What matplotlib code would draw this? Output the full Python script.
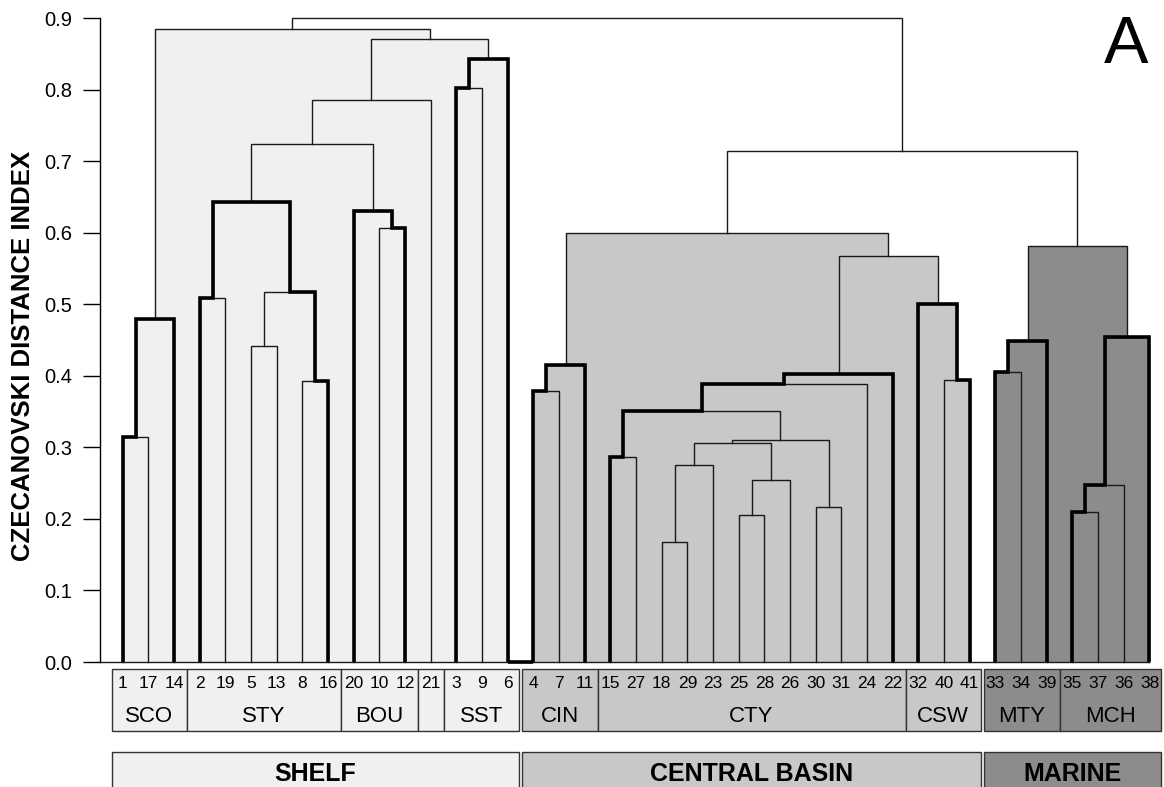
import numpy as np
import matplotlib
matplotlib.use('Agg')
import matplotlib.pyplot as plt
from matplotlib.patches import Rectangle, Polygon

plt.rcParams['font.family'] = ['Liberation Sans', 'DejaVu Sans']

# leaf order along the x axis
leaves = ['1', '17', '14', '2', '19', '5', '13', '8', '16', '20', '10', '12', '21',
          '3', '9', '6', '4', '7', '11', '15', '27', '18', '29', '23', '25', '28',
          '26', '30', '31', '24', '22', '32', '40', '41', '33', '34', '39', '35',
          '37', '36', '38']

# merges: (node name, left child, right child, distance)
merges = [
    ('a', '1', '17', 0.315),
    ('SCO', 'a', '14', 0.480),
    ('b', '2', '19', 0.509),
    ('c', '5', '13', 0.441),
    ('d', '8', '16', 0.393),
    ('e', 'c', 'd', 0.517),
    ('STY', 'b', 'e', 0.643),
    ('f', '10', '12', 0.606),
    ('BOU', '20', 'f', 0.630),
    ('g', 'STY', 'BOU', 0.724),
    ('h', 'g', '21', 0.786),
    ('i', '3', '9', 0.802),
    ('SST', 'i', '6', 0.843),
    ('j', 'h', 'SST', 0.870),
    ('shelf', 'SCO', 'j', 0.885),
    ('k', '4', '7', 0.379),
    ('CIN', 'k', '11', 0.415),
    ('l', '15', '27', 0.286),
    ('m', '18', '29', 0.168),
    ('n', 'm', '23', 0.275),
    ('o', '25', '28', 0.205),
    ('p', 'o', '26', 0.255),
    ('q', 'n', 'p', 0.306),
    ('r', '30', '31', 0.217),
    ('s', 'q', 'r', 0.310),
    ('t', 'l', 's', 0.351),
    ('u', 't', '24', 0.389),
    ('CTY', 'u', '22', 0.403),
    ('v', '40', '41', 0.394),
    ('CSW', '32', 'v', 0.501),
    ('w', 'CTY', 'CSW', 0.567),
    ('central', 'CIN', 'w', 0.599),
    ('x', '33', '34', 0.405),
    ('MTY', 'x', '39', 0.449),
    ('y', '35', '37', 0.209),
    ('z', 'y', '36', 0.247),
    ('MCH', 'z', '38', 0.454),
    ('marine', 'MTY', 'MCH', 0.582),
    ('aa', 'central', 'marine', 0.714),
    ('root', 'shelf', 'aa', 0.900),
]

# groups shown under the leaves
minor_groups = ['SCO', 'STY', 'BOU', '', 'SST', 'CIN', 'CTY', 'CSW', 'MTY', 'MCH']
minor_sizes = [3, 6, 3, 1, 3, 3, 12, 3, 3, 4]
major_groups = ['SHELF', 'CENTRAL BASIN', 'MARINE']
major_nodes = ['shelf', 'central', 'marine']
major_sizes = [16, 18, 7]
major_colors = ['#f0f0f0', '#c8c8c8', '#8c8c8c']

yticks = [0.0, 0.1, 0.2, 0.3, 0.4, 0.5, 0.6, 0.7, 0.8, 0.9]


def build_tree(leaves, merges):
    pos = {name: float(i) for i, name in enumerate(leaves)}
    height = {name: 0.0 for name in leaves}
    kids = {}
    for name, left, right, h in merges:
        kids[name] = (left, right)
        pos[name] = (pos[left] + pos[right]) / 2
        height[name] = h
    return pos, height, kids


def side_path(node, side, pos, height, kids):
    # walk down the outer edge of a cluster, top to bottom
    pts = []
    while node in kids:
        child = kids[node][side]
        pts.append((pos[child], height[node]))
        pts.append((pos[child], height[child]))
        node = child
    return pts


def outline(node, pos, height, kids):
    left = side_path(node, 0, pos, height, kids)
    right = side_path(node, 1, pos, height, kids)
    return left[::-1] + right


pos, height, kids = build_tree(leaves, merges)

W, H = 1164, 787
fig = plt.figure(figsize=(W / 100, H / 100), dpi=100)
xlim = (-0.884, 40.565)
ax = fig.add_axes([100 / W, 125 / H, 1064 / W, 644 / H])
ax.set_xlim(*xlim)
ax.set_ylim(0, 0.9)

#Filled envelopes of the three main clusters
for node, col in zip(major_nodes, major_colors):
    poly = Polygon(outline(node, pos, height, kids), closed=True,
                   facecolor=col, edgecolor='none', zorder=1)
    ax.add_patch(poly)

#Thin dendrogram lines
for name, left, right, h in merges:
    ax.plot([pos[left], pos[left], pos[right], pos[right]],
            [height[left], h, h, height[right]],
            color='#1a1a1a', lw=1.0, solid_joinstyle='miter',
            clip_on=False, zorder=2)

#Thick outlines around the named groups
for g in minor_groups:
    if g:
        pts = outline(g, pos, height, kids)
        ax.plot([p[0] for p in pts], [p[1] for p in pts], color='black',
                lw=2.6, solid_joinstyle='miter', solid_capstyle='butt',
                clip_on=False, zorder=3)

# baseline
ax.plot([xlim[0], pos[leaves[-1]]], [0, 0], color='#1a1a1a', lw=1.0,
        clip_on=False, zorder=2)
ax.plot([pos[leaves[major_sizes[0] - 1]], pos[leaves[major_sizes[0]]]], [0, 0],
        color='black', lw=2.6, solid_capstyle='butt', clip_on=False, zorder=3)

for side in ['top', 'right', 'bottom']:
    ax.spines[side].set_visible(False)
ax.spines['left'].set_bounds(0, 0.9)
ax.spines['left'].set_linewidth(1.0)
ax.set_xticks([])
ax.set_yticks(yticks)
ax.set_yticklabels(['%.1f' % t for t in yticks])
ax.tick_params(axis='y', length=12, width=1.0, pad=8, labelsize=14.5)

fig.text(23 / W, 1 - 356 / H, 'CZECANOVSKI DISTANCE INDEX', rotation=90,
         ha='center', va='center', fontsize=18.5, fontweight='bold')
fig.text(1126 / W, 1 - 46 / H, 'A', ha='center', va='center', fontsize=48)

#Label boxes under the leaves
bx = fig.add_axes([100 / W, 0, 1064 / W, 125 / H])
bx.set_xlim(*xlim)
bx.set_ylim(125, 0)
bx.axis('off')

bounds = list(np.cumsum([0] + major_sizes))
gap = 0.07


def major_color(i):
    for k in range(len(major_sizes)):
        if bounds[k] <= i < bounds[k + 1]:
            return major_colors[k]


start = 0
for name, size in zip(minor_groups, minor_sizes):
    s, e = start - 0.5, start + size - 0.5
    if start in bounds:
        s += gap
    if start + size in bounds:
        e -= gap
    bx.add_patch(Rectangle((s, 6.6), e - s, 62, facecolor=major_color(start),
                           edgecolor='#333333', lw=1.0))
    for leaf in leaves[start:start + size]:
        bx.text(pos[leaf], 21.5, leaf, ha='center', va='center', fontsize=12.5)
    if name:
        bx.text((s + e) / 2, 54, name, ha='center', va='center', fontsize=16)
    start += size

for k, name in enumerate(major_groups):
    s, e = bounds[k] - 0.5 + gap, bounds[k + 1] - 0.5 - gap
    bx.add_patch(Rectangle((s, 90.4), e - s, 50, facecolor=major_colors[k],
                           edgecolor='#333333', lw=1.0))
    bx.text((s + e) / 2, 111.8, name, ha='center', va='center',
            fontsize=18, fontweight='bold')

fig.savefig('out.png', dpi=100)
